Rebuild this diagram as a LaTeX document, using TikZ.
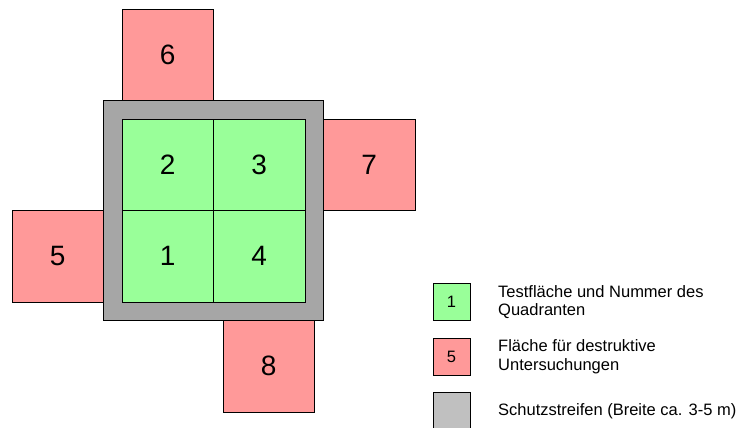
\documentclass[tikz,border=0pt]{standalone}
\usepackage{fontspec}
\setmainfont{Liberation Sans}
\usetikzlibrary{positioning}
\definecolor{testgreen}{HTML}{99FF99}
\definecolor{destred}{HTML}{FF9999}
\definecolor{stripgray}{HTML}{A6A6A6}
\definecolor{keygray}{HTML}{C0C0C0}
\tikzset{
    cell/.style={draw, line width=0.8pt, minimum size=91.5pt, inner sep=0pt, outer sep=0pt, font=\fontsize{28}{28}\selectfont}, % 正方形格子
    test cell/.style={cell, fill=testgreen}, % 测试区
    dest cell/.style={cell, fill=destred}, % 破坏性检测区
    key box/.style={draw, line width=0.8pt, minimum size=37pt, inner sep=0pt, outer sep=0pt, font=\fontsize{16.5}{16.5}\selectfont}, % 图例方块
    key text/.style={anchor=west, align=left, inner sep=0pt, font=\fontsize{16.5}{18.5}\selectfont} % 图例文字
}

\begin{document}
\begin{tikzpicture}[x=1pt, y=1pt]
            \def\rim{18.5pt}
            \clip (0,0) rectangle (745,428);

            \draw[fill=stripgray, line width=0.8pt] (103.5,107.5) rectangle (323.5,327.5);

            \node[test cell, anchor=south west] (q1) at (122,126) {1};
            \node[test cell, above=0pt of q1] (q2) {2};
            \node[test cell, right=0pt of q2] (q3) {3};
            \node[test cell, below=0pt of q3] (q4) {4};

            \node[dest cell, left=\rim of q1] (d5) {5};
            \node[dest cell, above=\rim of q2] (d6) {6};
            \node[dest cell, right=\rim of q3] (d7) {7};
            \node[dest cell, below=\rim of q4, xshift=9.5pt] (d8) {8};

            \node[key box, fill=testgreen] (k1) at (451.5,126) {1};
            \node[key box, fill=destred, below=17.5pt of k1] (k2) {5};
            \node[key box, fill=keygray, below=17.5pt of k2] (k3) {};
            \node[key text, right=28pt of k1] (t1) {Testfläche und Nummer des\\Quadranten};
            \node[key text, right=28pt of k2] (t2) {Fläche für destruktive\\Untersuchungen};
            \node[key text, right=28pt of k3] (t3) {Schutzstreifen (Breite ca. 3-5 m)};
        \end{tikzpicture}
\end{document}
